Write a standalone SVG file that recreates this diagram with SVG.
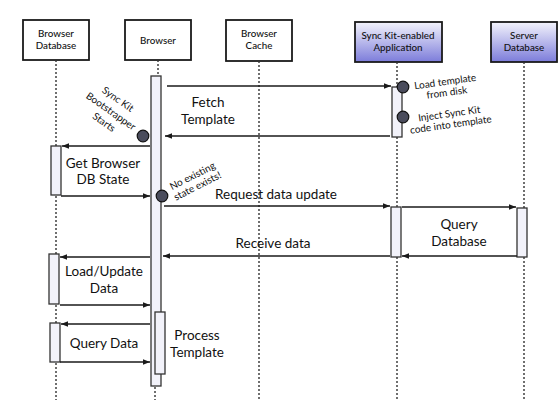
<svg xmlns="http://www.w3.org/2000/svg" width="559" height="405" viewBox="0 0 559 405">
<style>
.box{fill:#fff;stroke:#1a1a1a;stroke-width:1.8}
.gbox{fill:url(#g);stroke:#1a1a1a;stroke-width:1.8}
.bt{font-family:Lato,"Liberation Sans",sans-serif;font-size:9.8px;font-weight:500;fill:#111;text-anchor:middle}
.life{stroke:#333;stroke-width:1.4;stroke-dasharray:2,2;fill:none}
.act{fill:#f2f2fa;stroke:#333;stroke-width:1.3}
.msg{stroke:#1a1a1a;stroke-width:1.4;fill:none;marker-end:url(#ah)}
.lb{font-family:Lato,"Liberation Sans",sans-serif;font-size:13.5px;fill:#111;text-anchor:middle}
.sm{font-family:Lato,"Liberation Sans",sans-serif;font-size:10px;fill:#111;text-anchor:middle}
.dot{fill:#4a4c5c;stroke:#111;stroke-width:1.2}
</style>
<defs>
<linearGradient id="g" x1="0" y1="0" x2="0" y2="1">
<stop offset="0" stop-color="#f4f4fc"/>
<stop offset="1" stop-color="#7c7cda"/>
</linearGradient>
<marker id="ah" viewBox="0 0 10 10" refX="10" refY="5" markerWidth="7" markerHeight="7" orient="auto" markerUnits="userSpaceOnUse">
<path d="M0,1 L10,5 L0,9 z" fill="#1a1a1a"/>
</marker>
</defs>

<g id="node-browser-db">
<rect class="box" x="23" y="20" width="66" height="40"/>
<text class="bt" x="56" y="37">Browser</text>
<text class="bt" x="56" y="49">Database</text>
</g>
<g id="node-browser">
<rect class="box" x="125" y="20" width="66" height="40"/>
<text class="bt" x="158" y="44">Browser</text>
</g>
<g id="node-browser-cache">
<rect class="box" x="226" y="20" width="66" height="41"/>
<text class="bt" x="259" y="37">Browser</text>
<text class="bt" x="259" y="49">Cache</text>
</g>
<g id="node-synckit-app">
<rect class="gbox" x="355" y="22" width="87" height="40"/>
<text class="bt" x="398" y="39">Sync Kit-enabled</text>
<text class="bt" x="398" y="51">Application</text>
</g>
<g id="node-server-db">
<rect class="gbox" x="491" y="22" width="66" height="40"/>
<text class="bt" x="524" y="39">Server</text>
<text class="bt" x="524" y="51">Database</text>
</g>

<g id="lifelines">
<path class="life" d="M56,60 V146 M56,196 V254 M56,305 V323 M56,363 V400"/>
<path class="life" d="M158,60 V76 M155,387 V400"/>
<path class="life" d="M259,61 V400"/>
<path class="life" d="M397,62 V87 M397,137 V207 M397,257 V400"/>
<path class="life" d="M524,62 V208 M524,257 V400"/>
</g>

<g id="activations">
<rect class="act" x="151" y="76" width="10" height="310"/>
<rect class="act" x="155" y="312" width="10" height="62"/>
<rect class="act" x="392" y="87" width="10" height="50"/>
<rect class="act" x="391" y="207" width="10" height="50"/>
<rect class="act" x="517" y="208" width="10" height="49"/>
<rect class="act" x="51" y="146" width="10" height="49"/>
<rect class="act" x="49" y="254" width="10" height="50"/>
<rect class="act" x="50" y="323" width="10" height="39"/>
</g>

<g id="connectors">
<path class="msg" d="M167,86 H391"/>
<path class="msg" d="M390,136 H165"/>
<path class="msg" d="M150,146 H62"/>
<path class="msg" d="M61,196 H150"/>
<path class="msg" d="M164,206 H390"/>
<path class="msg" d="M402,207 H516"/>
<path class="msg" d="M517,256 H402"/>
<path class="msg" d="M390,256 H163"/>
<path class="msg" d="M150,257 H60"/>
<path class="msg" d="M60,305 H150"/>
<path class="msg" d="M150,324 H61"/>
<path class="msg" d="M60,362 H150"/>
</g>

<g id="events">
<circle class="dot" cx="403" cy="87" r="5.8"/>
<circle class="dot" cx="403" cy="117" r="5.8"/>
<circle class="dot" cx="143" cy="136" r="5.8"/>
<circle class="dot" cx="162" cy="196" r="5.8"/>
</g>

<g id="labels">
<text class="lb" x="208" y="107">Fetch</text>
<text class="lb" x="208" y="124">Template</text>
<text class="lb" x="103" y="168">Get Browser</text>
<text class="lb" x="103" y="184">DB State</text>
<text class="lb" x="276" y="199">Request data update</text>
<text class="lb" x="459" y="229">Query</text>
<text class="lb" x="459" y="246">Database</text>
<text class="lb" x="273" y="248">Receive data</text>
<text class="lb" x="104" y="276">Load/Update</text>
<text class="lb" x="104" y="293">Data</text>
<text class="lb" x="104" y="348">Query Data</text>
<text class="lb" x="197" y="340">Process</text>
<text class="lb" x="197" y="357">Template</text>
<g transform="rotate(-8 446 87)">
<text class="sm" x="446" y="85">Load template</text>
<text class="sm" x="446" y="96">from disk</text>
</g>
<g transform="rotate(-8 450 119)">
<text class="sm" x="450" y="117">Inject Sync Kit</text>
<text class="sm" x="450" y="128">code into template</text>
</g>
<text class="sm" transform="translate(116,102) rotate(35)">Sync Kit</text>
<text class="sm" transform="translate(109,114) rotate(35)">Bootstrapper</text>
<text class="sm" transform="translate(102,125) rotate(35)">Starts</text>
<text class="sm" transform="translate(194,179) rotate(-27)">No existing</text>
<text class="sm" transform="translate(199,189) rotate(-27)">state exists!</text>
</g>
</svg>
